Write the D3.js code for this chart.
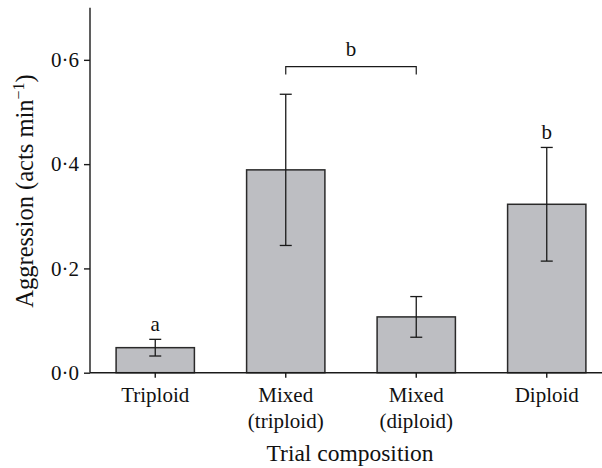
<!DOCTYPE html>
<html>
<head>
<meta charset="utf-8">
<script src="https://cdnjs.cloudflare.com/ajax/libs/d3/7.8.5/d3.min.js"></script>
<style>
  body { margin: 0; background: #fff; }
  text { font-family: "Liberation Serif", "DejaVu Serif", serif; fill: #111; }
</style>
</head>
<body>
<div id="chart"></div>
<script>
// data
var categories = ["Triploid", "Mixed|(triploid)", "Mixed|(diploid)", "Diploid"];
var means = [0.048, 0.389, 0.107, 0.323];
var errors = [0.016, 0.145, 0.039, 0.109];
var letters = ["a", "", "", "b"];
var yTicks = [0, 0.2, 0.4, 0.6];
// bracket joining the two mixed groups, labelled "b"
var bracketFrom = 1, bracketTo = 2, bracketLevel = 0.587, bracketLabel = "b";

var W = 602, H = 468;
var margin = {top: 7.7, right: 0, bottom: 95.3, left: 90};
var width = W - margin.left - margin.right,
    height = H - margin.top - margin.bottom;

var svg = d3.select("#chart").append("svg")
    .attr("width", W)
    .attr("height", H)
  .append("g")
    .attr("transform", "translate(" + margin.left + "," + margin.top + ")");

var x = d3.scaleBand()
    .domain(d3.range(categories.length))
    .range([0, 522])
    .paddingInner(0.4)
    .paddingOuter(0.2);

var y = d3.scaleLinear()
    .domain([0, 0.7])
    .range([height, 0]);

var fmt = function(d) { return d.toFixed(1).replace(".", "\u00b7"); };

// bars
svg.selectAll(".bar")
  .data(means)
  .enter()
  .append("rect")
    .attr("class", "bar")
    .attr("x", function(d, i) { return x(i); })
    .attr("y", function(d) { return y(d); })
    .attr("width", x.bandwidth())
    .attr("height", function(d) { return height - y(d); })
    .style("fill", "#bdbec2")
    .style("stroke", "#2a2a2a")
    .style("stroke-width", 1.5);

// error bars
var cx = function(i) { return x(i) + x.bandwidth() / 2; };
var cap = 6;
var eb = svg.selectAll(".err")
  .data(means)
  .enter()
  .append("g")
    .attr("class", "err")
    .style("stroke", "#1a1a1a")
    .style("stroke-width", 1.3);
eb.append("line")
    .attr("x1", function(d, i) { return cx(i); })
    .attr("x2", function(d, i) { return cx(i); })
    .attr("y1", function(d, i) { return y(d + errors[i]); })
    .attr("y2", function(d, i) { return y(d - errors[i]); });
eb.append("line")
    .attr("x1", function(d, i) { return cx(i) - cap; })
    .attr("x2", function(d, i) { return cx(i) + cap; })
    .attr("y1", function(d, i) { return y(d + errors[i]); })
    .attr("y2", function(d, i) { return y(d + errors[i]); });
eb.append("line")
    .attr("x1", function(d, i) { return cx(i) - cap; })
    .attr("x2", function(d, i) { return cx(i) + cap; })
    .attr("y1", function(d, i) { return y(d - errors[i]); })
    .attr("y2", function(d, i) { return y(d - errors[i]); });

// significance letters above single bars
svg.selectAll(".letter")
  .data(means)
  .enter()
  .append("text")
    .attr("class", "letter")
    .attr("x", function(d, i) { return cx(i); })
    .attr("y", function(d, i) { return y(d + errors[i]) - 8.5; })
    .attr("text-anchor", "middle")
    .style("font-size", "21px")
    .text(function(d, i) { return letters[i]; });

// bracket
var by = y(bracketLevel);
svg.append("path")
    .attr("d", "M" + cx(bracketFrom) + "," + (by + 8) + "V" + by + "H" + cx(bracketTo) + "V" + (by + 8))
    .style("fill", "none")
    .style("stroke", "#1a1a1a")
    .style("stroke-width", 1.2);
svg.append("text")
    .attr("x", (cx(bracketFrom) + cx(bracketTo)) / 2)
    .attr("y", by - 11)
    .attr("text-anchor", "middle")
    .style("font-size", "21px")
    .text(bracketLabel);

// y axis
var yAxis = svg.append("g")
    .call(d3.axisLeft(y).tickValues(yTicks).tickFormat(fmt).tickSize(6).tickPadding(5));
yAxis.selectAll("text").style("font-size", "21px").style("font-family", "Liberation Serif");
yAxis.selectAll("line, path").style("stroke", "#1a1a1a").style("stroke-width", 1.4);
yAxis.select(".domain").attr("d", "M0," + height + "V0");

// x axis
var xAxis = svg.append("g")
    .attr("transform", "translate(0," + height + ")")
    .call(d3.axisBottom(x).tickSize(5).tickFormat(""));
xAxis.selectAll("line, path").style("stroke", "#1a1a1a").style("stroke-width", 1.4);
xAxis.select(".domain").attr("d", "M0,0H" + width);

// category labels (two lines)
categories.forEach(function(c, i) {
  var t = svg.append("text")
      .attr("x", cx(i))
      .attr("y", height + 29)
      .attr("text-anchor", "middle")
      .style("font-size", "21px");
  c.split("|").forEach(function(part, k) {
    t.append("tspan")
        .attr("x", cx(i))
        .attr("dy", k === 0 ? 0 : 26)
        .text(part);
  });
});

// axis titles
svg.append("text")
    .attr("x", 350 - margin.left)
    .attr("y", height + 88.5)
    .attr("text-anchor", "middle")
    .style("font-size", "23.5px")
    .text("Trial composition");

var yt = svg.append("text")
    .attr("transform", "translate(" + (33 - margin.left) + "," + (191 - margin.top) + ") rotate(-90)")
    .attr("text-anchor", "middle")
    .style("font-size", "24.5px");
yt.append("tspan").text("Aggression (acts min");
yt.append("tspan").attr("dy", -9).style("font-size", "16px").text("\u22121");
yt.append("tspan").attr("dy", 9).text(")");
</script>
</body>
</html>
